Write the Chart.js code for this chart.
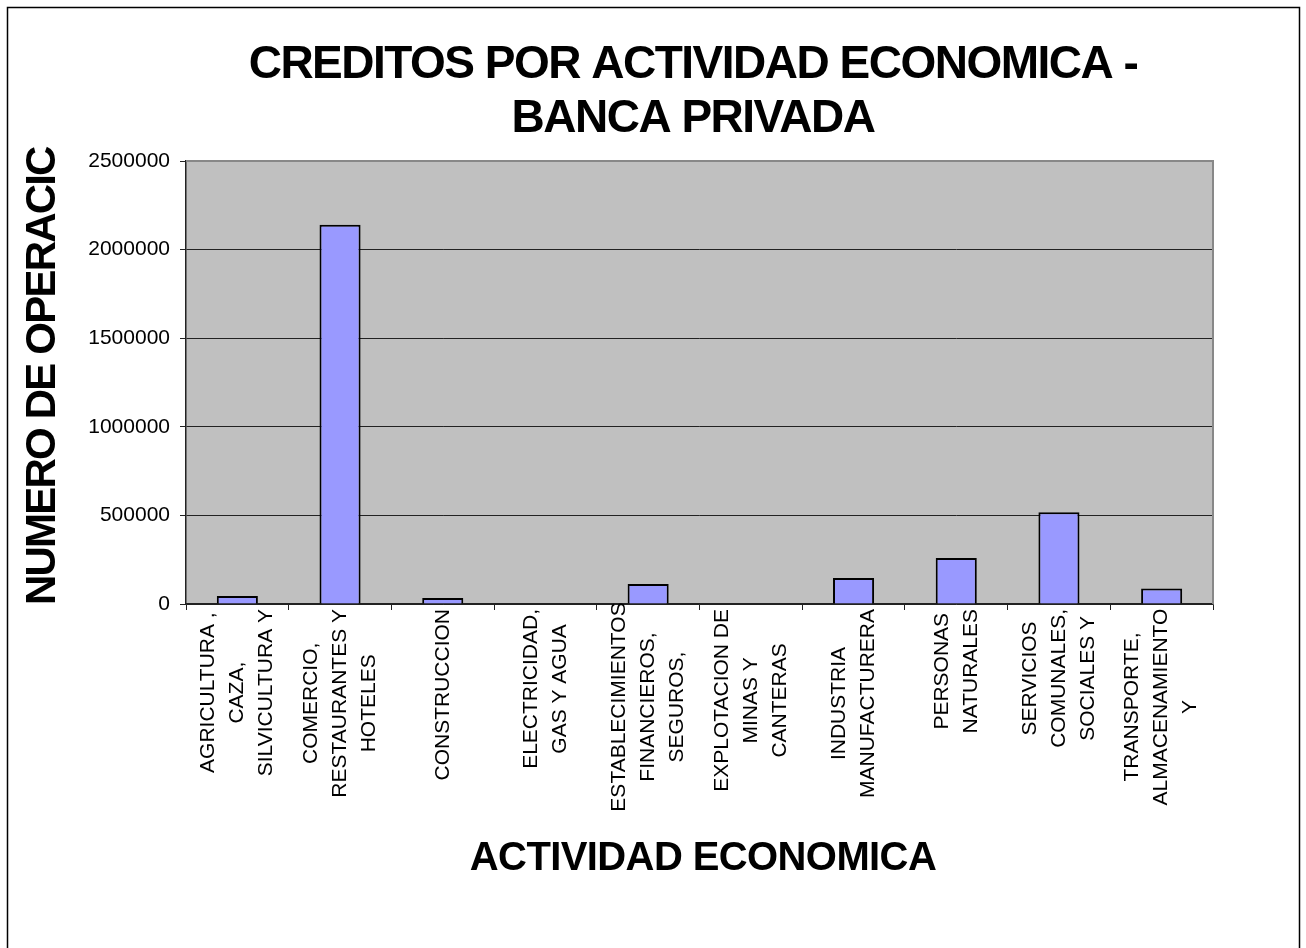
<!DOCTYPE html>
<html>
<head>
<meta charset="utf-8">
<script src="https://cdn.jsdelivr.net/npm/chart.js@4.4.1/dist/chart.umd.min.js"></script>
<style>
  html, body { margin: 0; padding: 0; background: #fff; overflow: hidden; }
  canvas { display: block; }
</style>
</head>
<body>
<canvas id="c" width="1306" height="948"></canvas>
<script>
// ---- data ----
const categories = [
  ["AGRICULTURA ,", "CAZA,", "SILVICULTURA Y"],
  ["COMERCIO,", "RESTAURANTES Y", "HOTELES"],
  ["CONSTRUCCION"],
  ["ELECTRICIDAD,", "GAS Y AGUA"],
  ["ESTABLECIMIENTOS", "FINANCIEROS,", "SEGUROS,"],
  ["EXPLOTACION DE", "MINAS Y", "CANTERAS"],
  ["INDUSTRIA", "MANUFACTURERA"],
  ["PERSONAS", "NATURALES"],
  ["SERVICIOS", "COMUNALES,", "SOCIALES Y"],
  ["TRANSPORTE,", "ALMACENAMIENTO", "Y"]
];
const operaciones = [45000, 2140000, 34000, 0, 113000, 0, 147000, 260000, 518000, 88000];
const yTicks = [0, 500000, 1000000, 1500000, 2000000, 2500000];
const titleLines = ["CREDITOS POR ACTIVIDAD ECONOMICA -", "BANCA PRIVADA"];
const xTitle = "ACTIVIDAD ECONOMICA";
const yTitle = "NUMERO DE OPERACIC";

const FONT = '"Liberation Sans", Arial, Helvetica, sans-serif';

const decorPlugin = {
  id: 'decor',
  beforeDraw(chart) {
    const ctx = chart.ctx, a = chart.chartArea;
    ctx.save();
    ctx.fillStyle = '#ffffff';
    ctx.fillRect(0, 0, chart.width, chart.height);
    ctx.fillStyle = '#C0C0C0';
    ctx.fillRect(a.left, a.top, a.right - a.left, a.bottom - a.top);
    ctx.restore();
  },
  afterDraw(chart) {
    const ctx = chart.ctx, a = chart.chartArea;
    ctx.save();
    // plot-area top/right border
    ctx.strokeStyle = '#888888';
    ctx.lineWidth = 2;
    ctx.beginPath();
    ctx.moveTo(a.left, a.top);
    ctx.lineTo(a.right, a.top);
    ctx.lineTo(a.right, a.bottom);
    ctx.stroke();
    // outer frame
    ctx.strokeStyle = '#000000';
    ctx.lineWidth = 1.5;
    ctx.strokeRect(7.5, 7.5, 1292, 980);

    ctx.fillStyle = '#000000';
    // title
    ctx.font = 'bold 46px ' + FONT;
    ctx.letterSpacing = '-1.5px';
    ctx.textAlign = 'center';
    ctx.textBaseline = 'alphabetic';
    ctx.fillText(titleLines[0], 693, 78);
    ctx.fillText(titleLines[1], 693, 132);

    // x title
    ctx.font = 'bold 40px ' + FONT;
    ctx.letterSpacing = '-0.6px';
    ctx.fillText(xTitle, 703, 870);

    // y title
    ctx.save();
    ctx.font = 'bold 42px ' + FONT;
    ctx.letterSpacing = '-1.8px';
    ctx.translate(55, 605);
    ctx.rotate(-Math.PI / 2);
    ctx.textAlign = 'left';
    ctx.fillText(yTitle, 0, 0);
    ctx.restore();
    ctx.letterSpacing = '0px';

    // category labels
    const xs = chart.scales.x;
    ctx.font = '21px ' + FONT;
    ctx.textAlign = 'center';
    ctx.textBaseline = 'middle';
    const lineH = 29;
    categories.forEach((lines, i) => {
      const cx = xs.getPixelForValue(i);
      let maxW = 0;
      lines.forEach(l => { maxW = Math.max(maxW, ctx.measureText(l).width); });
      const cy = Math.min(609 + maxW / 2, 707);
      lines.forEach((l, j) => {
        const x = cx + (j - (lines.length - 1) / 2) * lineH;
        ctx.save();
        ctx.translate(x, cy);
        ctx.rotate(-Math.PI / 2);
        ctx.fillText(l, 0, 0);
        ctx.restore();
      });
    });
    ctx.restore();
  }
};

new Chart(document.getElementById('c'), {
  type: 'bar',
  data: {
    labels: categories.map(l => l.join(' ')),
    datasets: [{
      data: operaciones,
      backgroundColor: '#9999FF',
      borderColor: '#000000',
      borderWidth: 2,
      barPercentage: 0.4,
      categoryPercentage: 1.0
    }]
  },
  options: {
    responsive: false,
    animation: false,
    devicePixelRatio: 1,
    layout: { padding: { top: 161, right: 93, left: 0, bottom: 0 } },
    plugins: { legend: { display: false }, tooltip: { enabled: false }, title: { display: false } },
    scales: {
      x: {
        offset: true,
        grid: { display: true, drawOnChartArea: false, drawTicks: true, tickLength: 6, color: '#222222', offset: true, lineWidth: 1 },
        border: { display: true, color: '#222222', width: 1.5 },
        ticks: { display: false },
        afterFit(s) { s.height = 948 - 604; }
      },
      y: {
        min: yTicks[0],
        max: yTicks[yTicks.length - 1],
        afterBuildTicks(s) { s.ticks = yTicks.map(v => ({ value: v })); },
        ticks: {
          color: '#000000',
          padding: 10,
          font: { family: FONT, size: 21 },
          callback: v => String(v)
        },
        grid: { color: '#222222', lineWidth: 1, tickLength: 6, drawTicks: true },
        border: { display: true, color: '#222222', width: 1.5 },
        afterFit(s) { s.width = 186; }
      }
    }
  },
  plugins: [decorPlugin]
});
</script>
</body>
</html>
